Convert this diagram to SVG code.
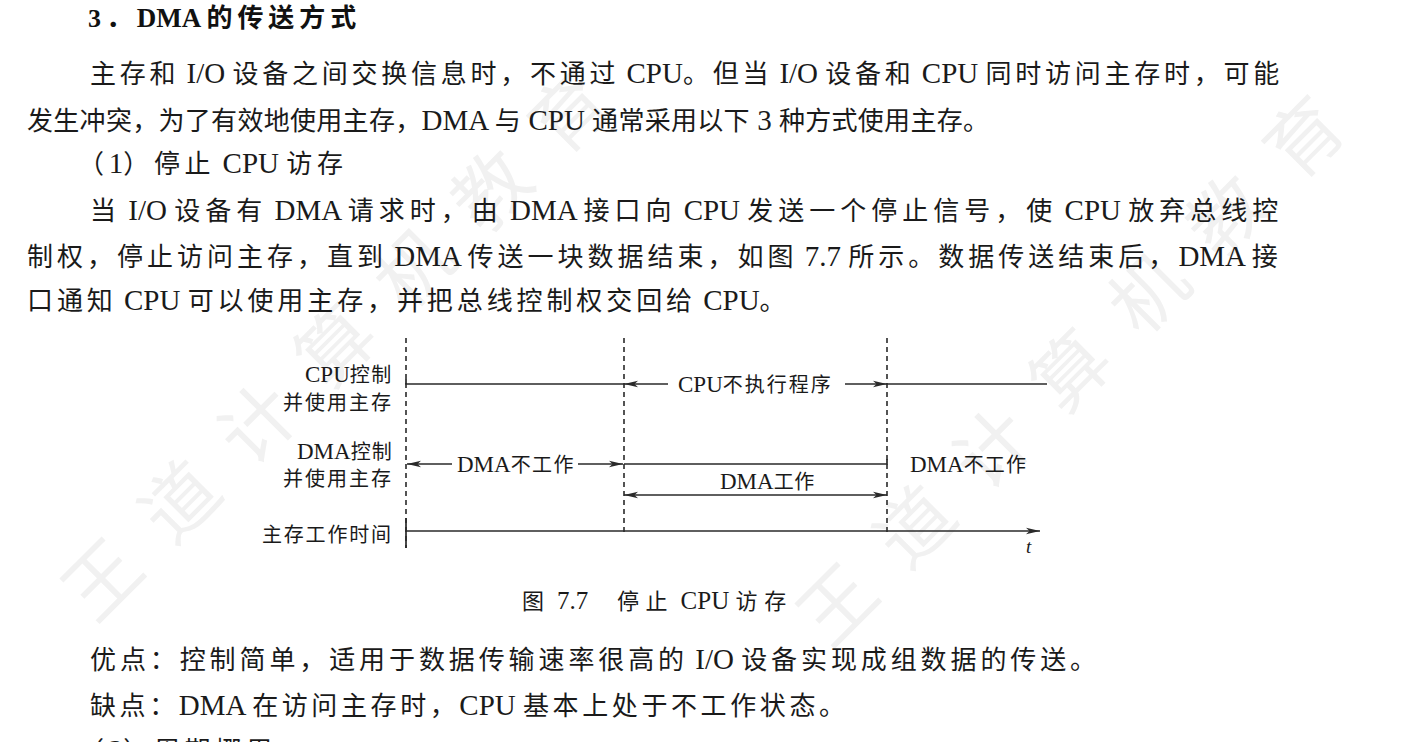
<svg xmlns="http://www.w3.org/2000/svg" width="1427" height="742" viewBox="0 0 1427 742">
<style>
.wm{font-family:"Noto Sans CJK SC",sans-serif;font-size:75px;fill:#f1f1f1;letter-spacing:35px}
.body{font-family:"Liberation Serif","Noto Sans CJK SC",serif;font-size:26px;fill:#1a1a1a}
.head{font-family:"Liberation Serif","Noto Sans CJK SC",serif;font-size:26px;font-weight:bold;fill:#111;letter-spacing:4.9px}
.cap{font-family:"Liberation Serif","Noto Sans CJK SC",serif;font-size:22px;fill:#1a1a1a;letter-spacing:6.7px}
.lbl{font-family:"Liberation Serif","Noto Sans CJK SC",serif;font-size:20px;fill:#1a1a1a}
.L{font-size:29px;letter-spacing:0}
.Lh{font-size:27px;letter-spacing:0}
.Lc{font-size:25px;letter-spacing:0}
.Ll{font-size:23px;letter-spacing:0}
.it{font-family:"Liberation Serif",serif;font-size:19px;font-style:italic;fill:#1a1a1a}
.ln{stroke:#2a2a2a;stroke-width:1.7;fill:none}
.dash{stroke:#2a2a2a;stroke-width:1.6;stroke-dasharray:5 4;fill:none}
.arr{stroke:#2a2a2a;stroke-width:1.7;fill:none;marker-end:url(#ah)}
.arr2{stroke:#2a2a2a;stroke-width:1.7;fill:none;marker-start:url(#ah);marker-end:url(#ah)}
</style>
<defs>
<marker id="ah" viewBox="0 0 14 8" refX="14" refY="4" markerWidth="14" markerHeight="8" markerUnits="userSpaceOnUse" orient="auto-start-reverse">
<path d="M0,0.8 L14,4 L0,7.2 L3.5,4 Z" fill="#2a2a2a"/>
</marker>
</defs>
<rect width="1427" height="742" fill="#ffffff"/>
<g id="watermarks">
<text class="wm" transform="translate(95,625) rotate(-45)">王道计算机教育</text>
<text class="wm" transform="translate(830,650) rotate(-45)">王道计算机教育</text>
</g>
<g id="page-text">
<text class="head" x="88" y="27">3．<tspan class="Lh">DMA </tspan>的传送方式</text>
<text class="body" x="90" y="83" style="letter-spacing:3.75px">主存和<tspan class="L"> I/O </tspan>设备之间交换信息时，不通过<tspan class="L"> CPU</tspan>。但当<tspan class="L"> I/O </tspan>设备和<tspan class="L"> CPU </tspan>同时访问主存时，可能</text>
<text class="body" x="27" y="130" style="letter-spacing:0.3px">发生冲突，为了有效地使用主存，<tspan class="L">DMA </tspan>与<tspan class="L"> CPU </tspan>通常采用以下<tspan class="L"> 3 </tspan>种方式使用主存。</text>
<text class="body" x="78" y="173" style="letter-spacing:4.7px">（<tspan class="L">1</tspan>）停止<tspan class="L"> CPU </tspan>访存</text>
<text class="body" x="90" y="220" style="letter-spacing:5.0px">当<tspan class="L"> I/O </tspan>设备有<tspan class="L"> DMA </tspan>请求时，由<tspan class="L"> DMA </tspan>接口向<tspan class="L"> CPU </tspan>发送一个停止信号，使<tspan class="L"> CPU </tspan>放弃总线控</text>
<text class="body" x="27" y="266" style="letter-spacing:4.0px">制权，停止访问主存，直到<tspan class="L"> DMA </tspan>传送一块数据结束，如图<tspan class="L"> 7.7 </tspan>所示。数据传送结束后，<tspan class="L">DMA </tspan>接</text>
<text class="body" x="27" y="310" style="letter-spacing:3.9px">口通知<tspan class="L"> CPU </tspan>可以使用主存，并把总线控制权交回给<tspan class="L"> CPU</tspan>。</text>
<text class="cap" x="522" y="609">图<tspan class="Lc"> 7.7</tspan>　停止<tspan class="Lc"> CPU </tspan>访存</text>
<text class="body" x="90" y="669" style="letter-spacing:3.9px">优点：控制简单，适用于数据传输速率很高的<tspan class="L"> I/O </tspan>设备实现成组数据的传送。</text>
<text class="body" x="90" y="715" style="letter-spacing:3.6px">缺点：<tspan class="L">DMA </tspan>在访问主存时，<tspan class="L">CPU </tspan>基本上处于不工作状态。</text>
<text class="body" x="78" y="760" style="letter-spacing:4.7px">（<tspan class="L">2</tspan>）周期挪用</text>
</g>
<g id="row-labels">
<g id="label-cpu"><text class="lbl" x="305" y="382" style="letter-spacing:1.6px"><tspan class="Ll">CPU</tspan>控制</text><text class="lbl" x="283" y="410" style="letter-spacing:2px">并使用主存</text></g>
<g id="label-dma"><text class="lbl" x="297" y="459" style="letter-spacing:1px"><tspan class="Ll">DMA</tspan>控制</text><text class="lbl" x="283" y="486" style="letter-spacing:2px">并使用主存</text></g>
<g id="label-mem"><text class="lbl" x="262" y="542" style="letter-spacing:1.8px">主存工作时间</text></g>
</g>
<g id="span-labels">
<g id="cpu-idle"><text class="lbl" x="678" y="392" style="letter-spacing:2px"><tspan class="Ll">CPU</tspan>不执行程序</text></g>
<g id="dma-idle-1"><text class="lbl" x="457" y="472" style="letter-spacing:1.4px"><tspan class="Ll">DMA</tspan>不工作</text></g>
<g id="dma-work"><text class="lbl" x="720" y="489" style="letter-spacing:0.6px"><tspan class="Ll">DMA</tspan>工作</text></g>
<g id="dma-idle-2"><text class="lbl" x="910" y="472" style="letter-spacing:1.2px"><tspan class="Ll">DMA</tspan>不工作</text></g>
<g id="t-label"><text class="it" x="1026" y="553">t</text></g>
</g>
<g id="connectors">
<line class="dash" x1="406" y1="338" x2="406" y2="548"/>
<line class="dash" x1="624" y1="338" x2="624" y2="532"/>
<line class="dash" x1="887" y1="338" x2="887" y2="532"/>
<path class="ln" d="M406,379 V384 H624"/>
<path class="ln" d="M887,384 H1047"/>
<line class="arr" x1="668" y1="384" x2="624" y2="384"/>
<line class="arr" x1="845" y1="384" x2="887" y2="384"/>
<line class="arr" x1="452" y1="464" x2="407" y2="464"/>
<line class="arr" x1="578" y1="464" x2="623" y2="464"/>
<path class="ln" d="M624,464 H887 V459"/>
<line class="arr2" x1="624" y1="495" x2="887" y2="495"/>
<path class="ln" d="M406,518 V548"/>
<line class="arr" x1="406" y1="531" x2="1040" y2="531"/>
</g>
</svg>
